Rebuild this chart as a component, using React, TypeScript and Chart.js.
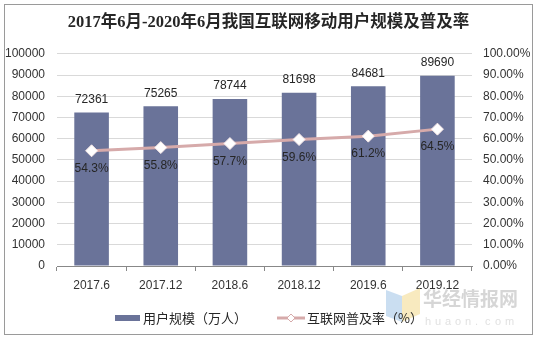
import React, { useEffect, useRef } from "react";
import { Chart, registerables } from "chart.js";

Chart.register(...registerables);

const title = "2017年6月-2020年6月我国互联网移动用户规模及普及率";
const categories = ["2017.6", "2017.12", "2018.6", "2018.12", "2019.6", "2019.12"];
const users = [72361, 75265, 78744, 81698, 84681, 89690];
const rates = [54.3, 55.8, 57.7, 59.6, 61.2, 64.5];
const barLabel = "用户规模（万人）";
const lineLabel = "互联网普及率（%）";

const BAR = "#6A7399";
const LINE = "#D6AAAA";
const FONT = "'Liberation Sans', Arial, 'Noto Sans CJK SC', sans-serif";
const CJK = "'Noto Sans CJK SC', 'Liberation Sans', sans-serif";

const extras = {
  id: "extras",
  beforeDraw(chart: any) {
    const ctx = chart.ctx;
    ctx.save();
    ctx.fillStyle = "#ffffff";
    ctx.fillRect(0, 0, chart.width, chart.height);
    ctx.strokeStyle = "#9a9a9a";
    ctx.lineWidth = 1;
    ctx.strokeRect(4.5, 4.5, 528, 330);
    ctx.restore();
  },
  afterDraw(chart: any) {
    const ctx = chart.ctx;
    ctx.save();
    // bar value labels
    const barMeta = chart.getDatasetMeta(0);
    ctx.font = "12px " + FONT;
    ctx.fillStyle = "#262626";
    ctx.textAlign = "center";
    ctx.textBaseline = "bottom";
    barMeta.data.forEach((el: any, i: number) => {
      ctx.fillText(String(users[i]), el.x, el.y - 7);
    });
    // line value labels
    const lineMeta = chart.getDatasetMeta(1);
    ctx.textBaseline = "middle";
    lineMeta.data.forEach((el: any, i: number) => {
      ctx.fillText(rates[i].toFixed(1) + "%", el.x, el.y + 18);
    });

    // watermark
    ctx.globalAlpha = 0.55;
    ctx.fillStyle = "#9fc3e6";
    ctx.beginPath();
    ctx.moveTo(386, 290);
    ctx.lineTo(402, 296);
    ctx.lineTo(402, 322);
    ctx.lineTo(386, 316);
    ctx.closePath();
    ctx.fill();
    ctx.fillStyle = "#f3d98a";
    ctx.beginPath();
    ctx.moveTo(402, 296);
    ctx.lineTo(420, 288);
    ctx.lineTo(420, 314);
    ctx.lineTo(402, 322);
    ctx.closePath();
    ctx.fill();
    ctx.fillStyle = "#b5b5b5";
    ctx.textAlign = "left";
    ctx.textBaseline = "middle";
    ctx.font = "bold 19px " + CJK;
    ctx.fillText("华经情报网", 423, 299);
    ctx.font = "11px " + FONT;
    ctx.fillStyle = "#c8c8c8";
    const wm = "huaon.com";
    for (let i = 0; i < wm.length; i++) {
      ctx.fillText(wm[i], 425 + i * 10, 322);
    }
    ctx.globalAlpha = 1;

    // legend
    const ly = 318;
    ctx.fillStyle = BAR;
    ctx.fillRect(115, ly - 3, 25, 6);
    ctx.fillStyle = "#262626";
    ctx.font = "13px " + CJK;
    ctx.textAlign = "left";
    ctx.textBaseline = "middle";
    ctx.fillText(barLabel, 143, ly);
    ctx.strokeStyle = LINE;
    ctx.lineWidth = 3;
    ctx.beginPath();
    ctx.moveTo(277, ly);
    ctx.lineTo(305, ly);
    ctx.stroke();
    ctx.fillStyle = "#ffffff";
    ctx.lineWidth = 1;
    ctx.beginPath();
    ctx.moveTo(291, ly - 4);
    ctx.lineTo(295, ly);
    ctx.lineTo(291, ly + 4);
    ctx.lineTo(287, ly);
    ctx.closePath();
    ctx.fill();
    ctx.stroke();
    ctx.fillStyle = "#262626";
    ctx.fillText(lineLabel, 307, ly);
    ctx.restore();
  },
};

export default function App() {
  const ref = useRef<HTMLCanvasElement>(null);
  useEffect(() => {
    document.body.style.margin = "0";
    const chart = new Chart(ref.current!, {
      type: "bar",
      data: {
        labels: categories,
        datasets: [
          {
            type: "bar",
            label: barLabel,
            data: users,
            backgroundColor: BAR,
            yAxisID: "y",
            barPercentage: 0.5,
            categoryPercentage: 1,
            order: 2,
          },
          {
            type: "line",
            label: lineLabel,
            data: rates,
            borderColor: LINE,
            borderWidth: 3,
            backgroundColor: "#ffffff",
            pointStyle: "rectRot",
            pointRadius: 6,
            pointBorderColor: "#f4e6e6",
            pointBorderWidth: 1,
            pointBackgroundColor: "#ffffff",
            yAxisID: "y1",
            order: 1,
          } as any,
        ],
      },
      options: {
        responsive: false,
        animation: false,
        layout: { padding: { left: 0, right: 0, top: 0, bottom: 0 } },
        plugins: {
          legend: { display: false },
          tooltip: { enabled: false },
          title: {
            display: true,
            text: title,
            color: "#262626",
            font: { size: 16.5, weight: "bold", family: "'Liberation Serif', 'Noto Sans CJK SC', serif" },
            padding: { top: 13, bottom: 21 },
          },
        },
        scales: {
          x: {
            offset: true,
            grid: { display: true, drawOnChartArea: false, offset: true, tickLength: 5, color: "#888888" },
            border: { display: true, color: "#888888" },
            ticks: { color: "#333333", font: { size: 12, family: FONT }, padding: 7 },
            afterFit: (s: any) => { s.height = 77; },
          },
          y: {
            position: "left",
            min: 0,
            max: 100000,
            ticks: {
              stepSize: 10000,
              color: "#333333",
              font: { size: 12, family: FONT },
              padding: 12,
              callback: (v: any) => String(v),
            },
            grid: { color: "#d9d9d9", tickLength: 0 },
            border: { display: false },
            afterFit: (s: any) => { s.width = 57; },
          },
          y1: {
            position: "right",
            min: 0,
            max: 100,
            ticks: {
              stepSize: 10,
              color: "#333333",
              font: { size: 12, family: FONT },
              padding: 3,
              callback: (v: any) => Number(v).toFixed(2) + "%",
            },
            grid: { drawOnChartArea: false, display: false },
            border: { display: false },
            afterFit: (s: any) => { s.width = 65; },
          },
        },
      },
      plugins: [extras],
    });
    return () => chart.destroy();
  }, []);
  return (
    <div style={{ position: "absolute", left: 0, top: 0, width: 537, height: 343 }}>
      <canvas ref={ref} width={537} height={343} />
    </div>
  );
}
